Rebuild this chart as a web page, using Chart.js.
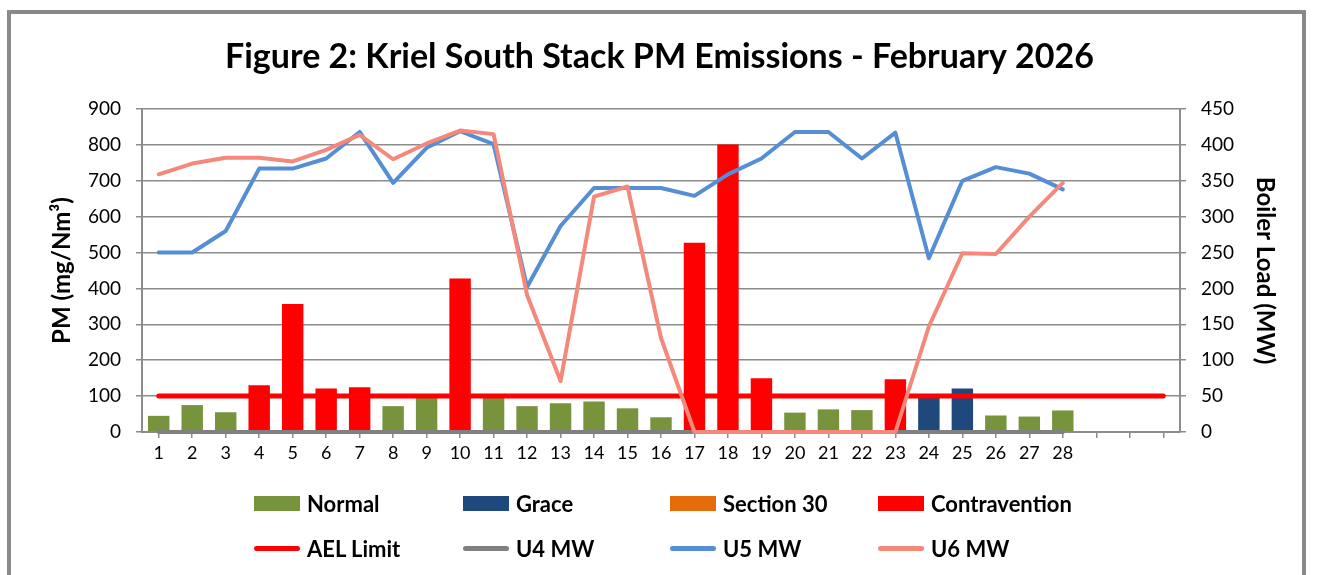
<!DOCTYPE html>
<html>
<head>
<meta charset="utf-8">
<script src="https://cdn.jsdelivr.net/npm/chart.js@4.4.1/dist/chart.umd.min.js"></script>
<style>
  html, body { margin: 0; padding: 0; background: #fff; overflow: hidden; }
  #wrap { position: relative; width: 1319px; height: 575px; }
  #frame { position: absolute; left: 7px; top: 10px; width: 1299px; height: 600px; border: 4px solid #898989; box-sizing: border-box; pointer-events: none; }
  canvas { position: absolute; left: 0; top: 0; }
  #legend { position: absolute; left: 0; top: 0; width: 1319px; height: 575px; pointer-events: none; font-family: Lato, "Open Sans", sans-serif; font-weight: bold; font-size: 22px; color: #000; }
  .item { position: absolute; display: flex; align-items: center; height: 26px; white-space: nowrap; }
  .box { width: 46px; height: 15px; margin-right: 7px; }
  .line { width: 46px; height: 5px; border-radius: 3px; margin-right: 7px; }
</style>
</head>
<body>
<div id="wrap">
  <canvas id="c" width="1319" height="575"></canvas>
  <div id="frame"></div>
  <div id="legend"></div>
</div>
<script>
const days = ['1','2','3','4','5','6','7','8','9','10','11','12','13','14','15','16','17','18','19','20','21','22','23','24','25','26','27','28','','',''];
const normal = [45,75,55,null,null,null,null,72,95,null,95,72,80,85,66,41,null,null,null,54,63,61,null,null,null,46,43,60];
const grace = [null,null,null,null,null,null,null,null,null,null,null,null,null,null,null,null,null,null,null,null,null,null,null,98,121,null,null,null];
const section30 = [null,null,null,null,null,null,null,null,null,null,null,null,null,null,null,null,null,null,null,null,null,null,null,null,null,null,null,null];
const contravention = [null,null,null,130,357,121,125,null,null,428,null,null,null,null,null,null,527,801,150,null,null,null,147,null,null,null,null,null];
const aelLimit = [100,100,100,100,100,100,100,100,100,100,100,100,100,100,100,100,100,100,100,100,100,100,100,100,100,100,100,100,100,100,100];
const u4MW = [0,0,0,0,0,0,0,0,0,0,0,0,0,0,0,0,0,0,0,0,0,0,0,0,0,0,0,0];
const u5MW = [250,250,280,367,367,381,418,347,396,419,401,202,287,340,340,340,329,359,381,418,418,381,417,242,350,369,360,338];
const u6MW = [359,374,382,382,377,393,414,380,402,420,415,191,71,328,342,131,0,0,0,0,0,0,0,147,249,248,300,347];
const pmTicks = [0,100,200,300,400,500,600,700,800,900];
const mwTicks = [0,50,100,150,200,250,300,350,400,450];

const FONT = 'Lato, "Open Sans", sans-serif';
const GRID = '#8c8c8c';

function bar(label, data, color) {
  return { type: 'bar', label, data, backgroundColor: color, borderWidth: 0, yAxisID: 'y',
           grouped: false, barPercentage: 0.64, categoryPercentage: 1, order: 10 };
}
function line(label, data, color, axis, width, order) {
  return { type: 'line', label, data, borderColor: color, backgroundColor: color, yAxisID: axis,
           borderWidth: width, pointRadius: 0, tension: 0, fill: false, clip: false,
           borderCapStyle: 'round', borderJoinStyle: 'round', order };
}

const datasets = [
  bar('Normal', normal, '#77933C'),
  bar('Grace', grace, '#1F497D'),
  bar('Section 30', section30, '#E46C0A'),
  bar('Contravention', contravention, '#FF0000'),
  line('AEL Limit', aelLimit, '#FF0000', 'y', 5, 4),
  line('U4 MW', u4MW, '#808080', 'y2', 4, 3),
  line('U5 MW', u5MW, '#558ED5', 'y2', 4, 2),
  line('U6 MW', u6MW, '#F4897B', 'y2', 4, 1)
];

const chart = new Chart(document.getElementById('c'), {
  data: { labels: days, datasets },
  options: {
    responsive: false,
    animation: false,
    events: [],
    layout: { padding: { left: 0, right: 0, top: 0, bottom: 103 } },
    plugins: {
      legend: { display: false },
      tooltip: { enabled: false },
      title: {
        display: true,
        text: 'Figure 2: Kriel South Stack PM Emissions - February 2026',
        color: '#000',
        font: { family: FONT, size: 34, weight: 'bold', lineHeight: 1.2 },
        padding: { top: 36.5, bottom: 31.7 }
      }
    },
    scales: {
      x: {
        type: 'category',
        offset: true,
        grid: { drawOnChartArea: false, drawTicks: true, tickLength: 6, color: GRID, lineWidth: 1.5, offset: false },
        border: { display: true, color: GRID, width: 2 },
        ticks: { autoSkip: false, maxRotation: 0, minRotation: 0, color: '#000', padding: 4,
                 font: { family: FONT, size: 18 } },
        afterFit: s => { s.height = 40; }
      },
      y: {
        position: 'left',
        min: 0, max: 900,
        afterBuildTicks: s => { s.ticks = pmTicks.map(v => ({ value: v })); },
        grid: { color: GRID, lineWidth: 1.5, tickLength: 6, drawTicks: true },
        border: { display: true, color: GRID, width: 2 },
        ticks: { color: '#000', padding: 15, font: { family: FONT, size: 19 } },
        title: { display: true, text: 'PM (mg/Nm³)', color: '#000', padding: { top: 47.6, bottom: 0 },
                 font: { family: FONT, size: 24, weight: 'bold', lineHeight: 1.2 } },
        afterFit: s => { s.width = 142; }
      },
      y2: {
        position: 'right',
        min: 0, max: 450,
        afterBuildTicks: s => { s.ticks = mwTicks.map(v => ({ value: v })); },
        grid: { drawOnChartArea: false, color: GRID, lineWidth: 1.5, tickLength: 6, drawTicks: true },
        border: { display: true, color: GRID, width: 2 },
        ticks: { color: '#000', padding: 15, font: { family: FONT, size: 19 } },
        title: { display: true, text: 'Boiler Load (MW)', color: '#000', padding: { top: 39.6, bottom: 0 },
                 font: { family: FONT, size: 24, weight: 'bold', lineHeight: 1.2 } },
        afterFit: s => { s.width = 139; }
      }
    }
  }
});

// HTML legend built from the chart's datasets
const legendCols = [254, 463, 670, 878];
const legendRows = [503, 548];
const legendEl = document.getElementById('legend');
chart.data.datasets.forEach((ds, i) => {
  const item = document.createElement('div');
  item.className = 'item';
  item.style.left = legendCols[i % 4] + 'px';
  item.style.top = (legendRows[Math.floor(i / 4)] - 13) + 'px';
  const mark = document.createElement('span');
  mark.className = ds.type === 'bar' ? 'box' : 'line';
  mark.style.background = ds.type === 'bar' ? ds.backgroundColor : ds.borderColor;
  const txt = document.createElement('span');
  txt.textContent = ds.label;
  item.appendChild(mark);
  item.appendChild(txt);
  legendEl.appendChild(item);
});
</script>
</body>
</html>
